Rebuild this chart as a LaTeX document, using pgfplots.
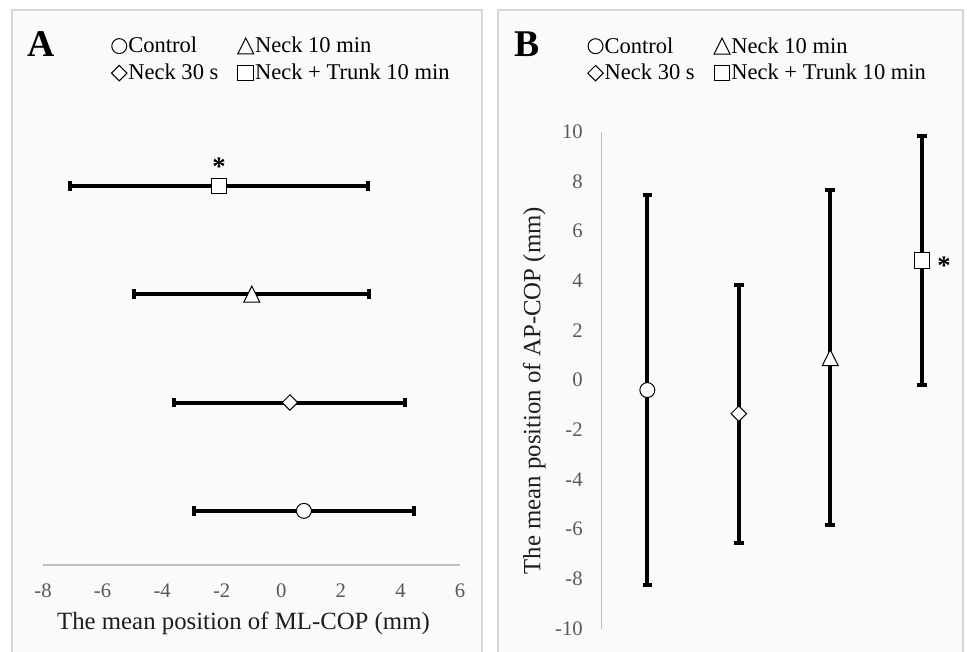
\documentclass[border=0pt]{standalone}
\usepackage{fontspec}
\setmainfont{Liberation Serif}
\usepackage{pgfplots}
\pgfplotsset{compat=1.18}
\definecolor{panelFill}{RGB}{250,250,250}
\definecolor{panelEdge}{RGB}{214,214,214}
\definecolor{axisGray}{RGB}{191,191,191}
\definecolor{tickGray}{RGB}{89,89,89}
\definecolor{titleGray}{RGB}{30,30,30}

\pgfplotsset{
  copaxis/.style={
    scale only axis, clip=false,
    axis line style={draw=axisGray, line width=0.9pt},
    major tick length=0pt, tick style={draw=none},
    tick label style={font=\fontsize{15.5}{17}\selectfont, text=tickGray},
    /pgf/number format/assume math mode=true,
    label style={font=\fontsize{18.6}{22}\selectfont, text=titleGray},
    legend cell align=left, legend columns=2,
    legend style={draw=none, fill=none, inner sep=0pt, outer sep=0pt,
      font=\fontsize{16.9}{20}\selectfont, row sep=5pt,
      nodes={inner sep=1pt},
      /tikz/every even column/.append style={column sep=13.5pt}},
    legend image code/.code={\draw[#1] plot coordinates {(0pt,0pt)};},
  },
  copmark/.style={only marks, draw=black,
    mark options={draw=black, fill=white, line width=0.75pt, solid},
    error bars/error bar style={line width=3pt, black},
    error bars/error mark options={rotate=90, line width=3pt, black, mark size=3.6pt}},
  mcirc/.style={copmark, mark=*, mark size=5.6pt},
  mtri/.style={copmark, mark=triangle*, mark size=6.9pt,
    mark options={draw=black, fill=white, line width=0.75pt, solid, yshift=-1.9pt, yscale=1.15}},
  mdia/.style={copmark, mark=square*, mark size=4.1pt,
    mark options={draw=black, fill=white, line width=0.75pt, solid, rotate=45}},
  msq/.style={copmark, mark=square*, mark size=5.8pt},
}

\begin{document}
\begin{tikzpicture}
\path[use as bounding box] (0,0) rectangle (725.25pt,489pt);
\fill[white] (0,0) rectangle (725.25pt,489pt);
% panel frames
\fill[panelFill] (9pt,0pt) rectangle (361.5pt,481.5pt);
\draw[panelEdge, line width=1pt] (9pt,-2pt) -- (9pt,481.5pt) -- (361.5pt,481.5pt) -- (361.5pt,-2pt);
\fill[panelFill] (373.5pt,0pt) rectangle (722.25pt,481.5pt);
\draw[panelEdge, line width=1pt] (373.5pt,-2pt) -- (373.5pt,481.5pt) -- (722.25pt,481.5pt) -- (722.25pt,-2pt);
\node[font=\fontsize{28.3}{30}\selectfont\bfseries, anchor=base] at (30.75pt,446.5pt) {A};
\node[font=\fontsize{28.3}{30}\selectfont\bfseries, anchor=base] at (395.6pt,446.5pt) {B};

% panel A: ML-COP
\begin{axis}[copaxis,
  at={(32.25pt,65.25pt)}, anchor=south west,
  width=312.75pt, height=324.9pt,
  xmin=-8, xmax=6, ymin=0, ymax=4,
  axis x line*=bottom, axis y line=none,
  xtick={-8,-6,-4,-2,0,2,4,6}, ytick=\empty,
  xticklabel style={anchor=center, yshift=-19.5pt},
  xlabel={The mean position of ML-COP (mm)},
  xlabel style={at={(axis description cs:0.4808,-0.150)}, anchor=base},
  legend style={at={(axis description cs:0.1643,1.2212)}, anchor=north west},
]
\addplot[mcirc, error bars/.cd, x dir=both, x explicit] coordinates {(0.76,0.5) +- (3.68,0)};
\addlegendentry{Control}
\addplot[mtri, error bars/.cd, x dir=both, x explicit] coordinates {(-0.99,2.5) +- (3.95,0)};
\addlegendentry{Neck 10 min}
\addplot[mdia, error bars/.cd, x dir=both, x explicit] coordinates {(0.29,1.5) +- (3.88,0)};
\addlegendentry{Neck 30 s}
\addplot[msq, error bars/.cd, x dir=both, x explicit] coordinates {(-2.09,3.5) +- (5.00,0)};
\addlegendentry{Neck + Trunk 10 min}
\node[font=\fontsize{20}{22}\selectfont\bfseries, anchor=base, yshift=7.9pt] at (axis cs:-2.09,3.5) {*};
\end{axis}

% panel B: AP-COP
\begin{axis}[copaxis,
  at={(451.2pt,17.6pt)}, anchor=south west,
  width=274.4pt, height=372.6pt,
  xmin=0.5, xmax=4.5, ymin=-10, ymax=10,
  axis y line*=left, axis x line=none,
  ytick={-10,-8,-6,-4,-2,0,2,4,6,8,10}, xtick=\empty,
  yticklabel style={anchor=east, inner sep=0pt, xshift=-14pt},
  ylabel={The mean position of AP-COP (mm)},
  ylabel style={at={(axis description cs:-0.1672,0.4787)}, anchor=base, rotate=0},
  legend style={at={(axis description cs:-0.0377,1.1926)}, anchor=north west},
]
\addplot[mcirc, error bars/.cd, y dir=both, y explicit] coordinates {(1,-0.40) +- (0,7.84)};
\addlegendentry{Control}
\addplot[mtri, error bars/.cd, y dir=both, y explicit] coordinates {(3,0.90) +- (0,6.74)};
\addlegendentry{Neck 10 min}
\addplot[mdia, error bars/.cd, y dir=both, y explicit] coordinates {(2,-1.35) +- (0,5.19)};
\addlegendentry{Neck 30 s}
\addplot[msq, error bars/.cd, y dir=both, y explicit] coordinates {(4,4.82) +- (0,5.01)};
\addlegendentry{Neck + Trunk 10 min}
\node[font=\fontsize{20}{22}\selectfont\bfseries, anchor=base, xshift=16.7pt, yshift=-10.6pt] at (axis cs:4,4.82) {*};
\end{axis}
\end{tikzpicture}
\end{document}
